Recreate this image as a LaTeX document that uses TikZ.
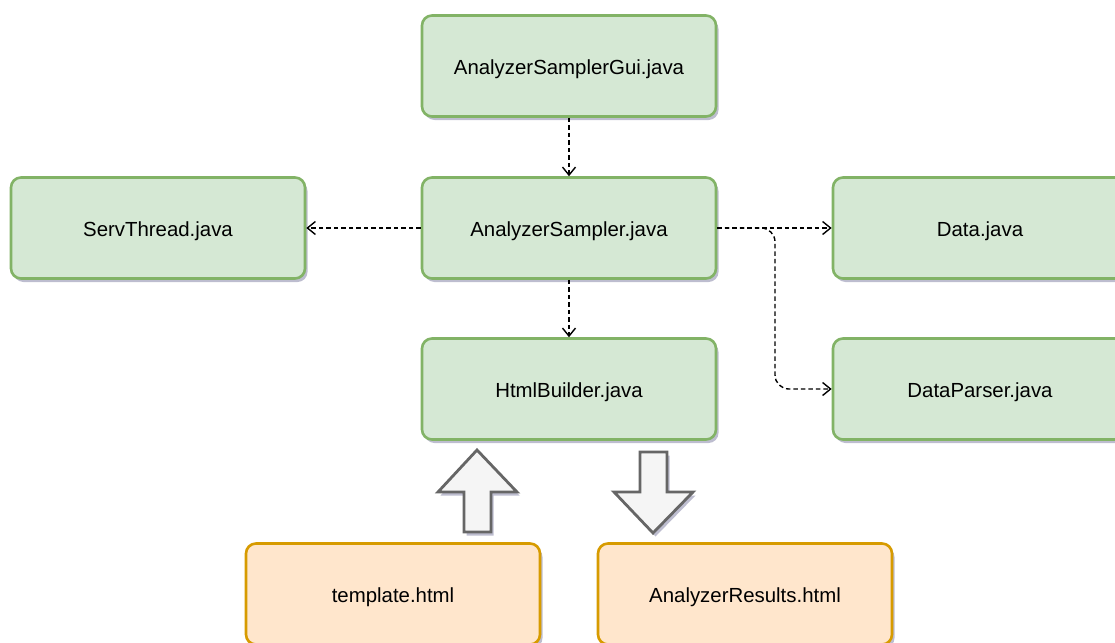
\documentclass[tikz,border=0pt]{standalone}
\usepackage{fontspec}
\setmainfont{Liberation Sans}
\usetikzlibrary{shadows,arrows.meta}
\definecolor{gfill}{HTML}{D5E8D4}
\definecolor{gline}{HTML}{82B366}
\definecolor{ofill}{HTML}{FFE6CC}
\definecolor{oline}{HTML}{D79B00}
\definecolor{afill}{HTML}{F5F5F5}
\definecolor{aline}{HTML}{666666}
\definecolor{shad}{HTML}{7C7CA0}
\tikzset{
  x=1pt, y=-1pt,
  myshadow/.style={drop shadow={shadow xshift=2.5pt, shadow yshift=-3.5pt, fill=shad, opacity=0.5}},
  gbox/.style={draw=gline, fill=gfill, line width=2.6pt, rounded corners=10pt,
    minimum width=294pt, minimum height=101pt, inner sep=0pt, myshadow,
    font=\fontsize{20.4}{24}\selectfont, text depth=0pt},
  obox/.style={gbox, draw=oline, fill=ofill},
  dep/.style={dash pattern=on 4.5pt off 3pt, line width=1.4pt, -{Straight Barb[length=8pt,width=13pt,line width=1.4pt]}},
  blockarrow/.style={draw=aline, fill=afill, line width=2.8pt, myshadow, line join=miter},
}
\begin{document}
\begin{tikzpicture}
\useasboundingbox (0,0) rectangle (1115,642);
\node[gbox] (gui) at (569,66) {\raisebox{-3pt}{AnalyzerSamplerGui.java}};
\node[gbox] (sampler) at (569,228) {\raisebox{-3pt}{AnalyzerSampler.java}};
\node[gbox] (serv) at (158,228) {\raisebox{-3pt}{ServThread.java}};
\node[gbox] (data) at (980,228) {\raisebox{-3pt}{Data.java}};
\node[gbox] (html) at (569,389) {\raisebox{-3pt}{HtmlBuilder.java}};
\node[gbox] (parser) at (980,389) {\raisebox{-3pt}{DataParser.java}};
\node[obox] (tmpl) at (393,594) {\raisebox{-3pt}{template.html}};
\node[obox] (res) at (745,594) {\raisebox{-3pt}{AnalyzerResults.html}};

\draw[dep] (gui) -- (sampler);
\draw[dep] (sampler) -- (serv);
\draw[dep] (sampler) -- (data);
\draw[dep] (sampler) -- (html);
\coordinate (bend) at (775,228);
\draw[dep, rounded corners=14pt] (sampler.east) -- (bend) -- (bend |- parser.west) -- (parser.west);

\path[blockarrow] (464,532) -- (464,492) -- (438,492) -- (477,450) -- (517,492) -- (491,492) -- (491,532) -- cycle;
\path[blockarrow] (640,452) -- (640,492) -- (614,492) -- (653,533) -- (693,492) -- (667,492) -- (667,452) -- cycle;
\end{tikzpicture}
\end{document}
